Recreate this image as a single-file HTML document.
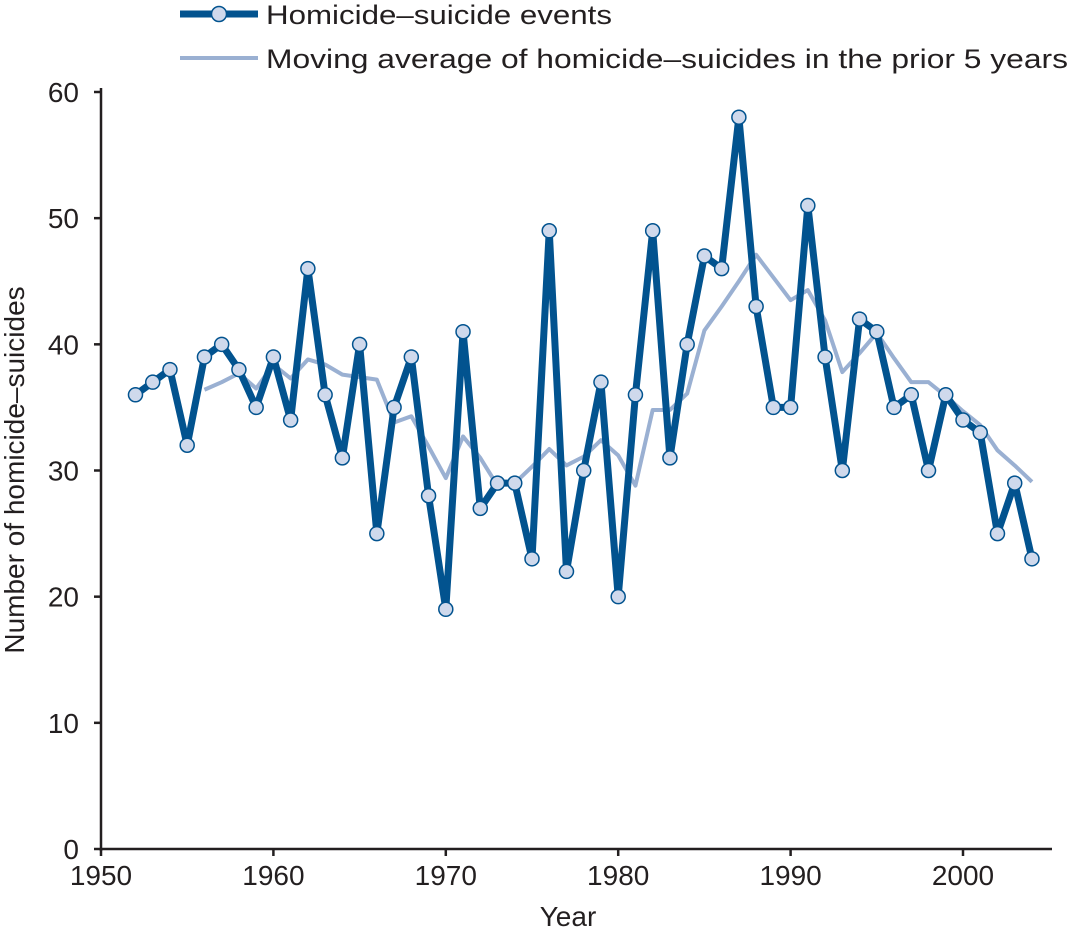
<!DOCTYPE html>
<html><head><meta charset="utf-8"><style>
html,body{margin:0;padding:0;background:#fff;}
svg text{font-family:"Liberation Sans",sans-serif;fill:#231f20;}
</style></head><body>
<svg id="chart" width="1072" height="930" viewBox="0 0 1072 930" xmlns="http://www.w3.org/2000/svg">
<g id="legend">
  <g>
    <line x1="180" y1="14" x2="258" y2="14" stroke="#02538f" stroke-width="7"/>
    <circle cx="219" cy="14" r="7.5" fill="#cfd9ec" stroke="#02538f" stroke-width="1.5"/>
    <text x="266" y="24" font-size="27" textLength="346" lengthAdjust="spacingAndGlyphs">Homicide–suicide events</text>
  </g>
  <g>
    <line x1="180" y1="58" x2="258" y2="58" stroke="#9ab0d2" stroke-width="4"/>
    <text x="266" y="68" font-size="27" textLength="802" lengthAdjust="spacingAndGlyphs">Moving average of homicide–suicides in the prior 5 years</text>
  </g>
</g>
<g id="axes"></g>
<g id="series"></g>
<text x="568" y="926" font-size="28" text-anchor="middle">Year</text>
<text transform="translate(24,470) rotate(-90)" font-size="28" text-anchor="middle">Number of homicide–suicides</text>
</svg>
<script>
const years = [1952,1953,1954,1955,1956,1957,1958,1959,1960,1961,1962,1963,1964,1965,1966,1967,1968,1969,1970,1971,1972,1973,1974,1975,1976,1977,1978,1979,1980,1981,1982,1983,1984,1985,1986,1987,1988,1989,1990,1991,1992,1993,1994,1995,1996,1997,1998,1999,2000,2001,2002,2003,2004];
const events = [36,37,38,32,39,40,38,35,39,34,46,36,31,40,25,35,39,28,19,41,27,29,29,23,49,22,30,37,20,36,49,31,40,47,46,58,43,35,35,51,39,30,42,41,35,36,30,36,34,33,25,29,23];
const maYears = [1956,1957,1958,1959,1960,1961,1962,1963,1964,1965,1966,1967,1968,1969,1970,1971,1972,1973,1974,1975,1976,1977,1978,1979,1980,1981,1982,1983,1984,1985,1986,1987,1988,1989,1990,1991,1992,1993,1994,1995,1996,1997,1998,1999,2000,2001,2002,2003,2004];
const movingAvg = [36.4,37.0,37.7,36.5,38.4,37.3,38.8,38.4,37.6,37.4,37.2,33.8,34.3,31.9,29.4,32.7,31.0,28.8,29.0,30.3,31.7,30.4,31.1,32.4,31.2,28.8,34.8,34.8,36.1,41.1,43.0,45.0,47.1,45.3,43.5,44.3,41.9,37.8,39.3,40.9,38.9,37.0,37.0,35.9,34.7,33.6,31.6,30.4,29.1];
const yTicks = [0,10,20,30,40,50,60];
const xTicks = [1950,1960,1970,1980,1990,2000];

const NS = "http://www.w3.org/2000/svg";
const x = v => 101 + (v - 1950) * (963 - 101) / 50;
const y = v => 849 - v * (849 - 92) / 60;
function mk(tag, attrs, parent){const e=document.createElementNS(NS,tag);for(const k in attrs)e.setAttribute(k,attrs[k]);parent.appendChild(e);return e;}
const axes=document.getElementById('axes'), series=document.getElementById('series');

let yl=mk('line',{x1:101,y1:88,x2:101,y2:851,stroke:'#231f20','stroke-width':2.5},axes);


let xl=mk('line',{x1:100,y1:849,x2:1052,y2:849,stroke:'#231f20','stroke-width':2.5},axes);


yTicks.forEach(t=>{
  const tk=mk('line',{x1:94,y1:y(t),x2:101,y2:y(t),stroke:'#231f20','stroke-width':2.5},axes);
  
  
  const lb=mk('text',{x:79,y:y(t)+10,'font-size':28,'text-anchor':'end'},axes);
  lb.textContent=t;
  
  
});
xTicks.forEach(t=>{
  const tk=mk('line',{x1:x(t),y1:849,x2:x(t),y2:856,stroke:'#231f20','stroke-width':2.5},axes);
  
  
  const lb=mk('text',{x:x(t),y:885,'font-size':28,'text-anchor':'middle'},axes);
  lb.textContent=t;
  
  
});
const ma=mk('polyline',{points:maYears.map((yr,i)=>x(yr)+','+y(movingAvg[i])).join(' '),fill:'none',stroke:'#9ab0d2','stroke-width':4,'stroke-linejoin':'round'},series);


const ev=mk('polyline',{points:years.map((yr,i)=>x(yr)+','+y(events[i])).join(' '),fill:'none',stroke:'#02538f','stroke-width':7,'stroke-linejoin':'round'},series);


years.forEach((yr,i)=>{
  const c=mk('circle',{cx:x(yr),cy:y(events[i]),r:7,fill:'#cfd9ec',stroke:'#02538f','stroke-width':1.5},series);
  
  
});
</script>
</body></html>
